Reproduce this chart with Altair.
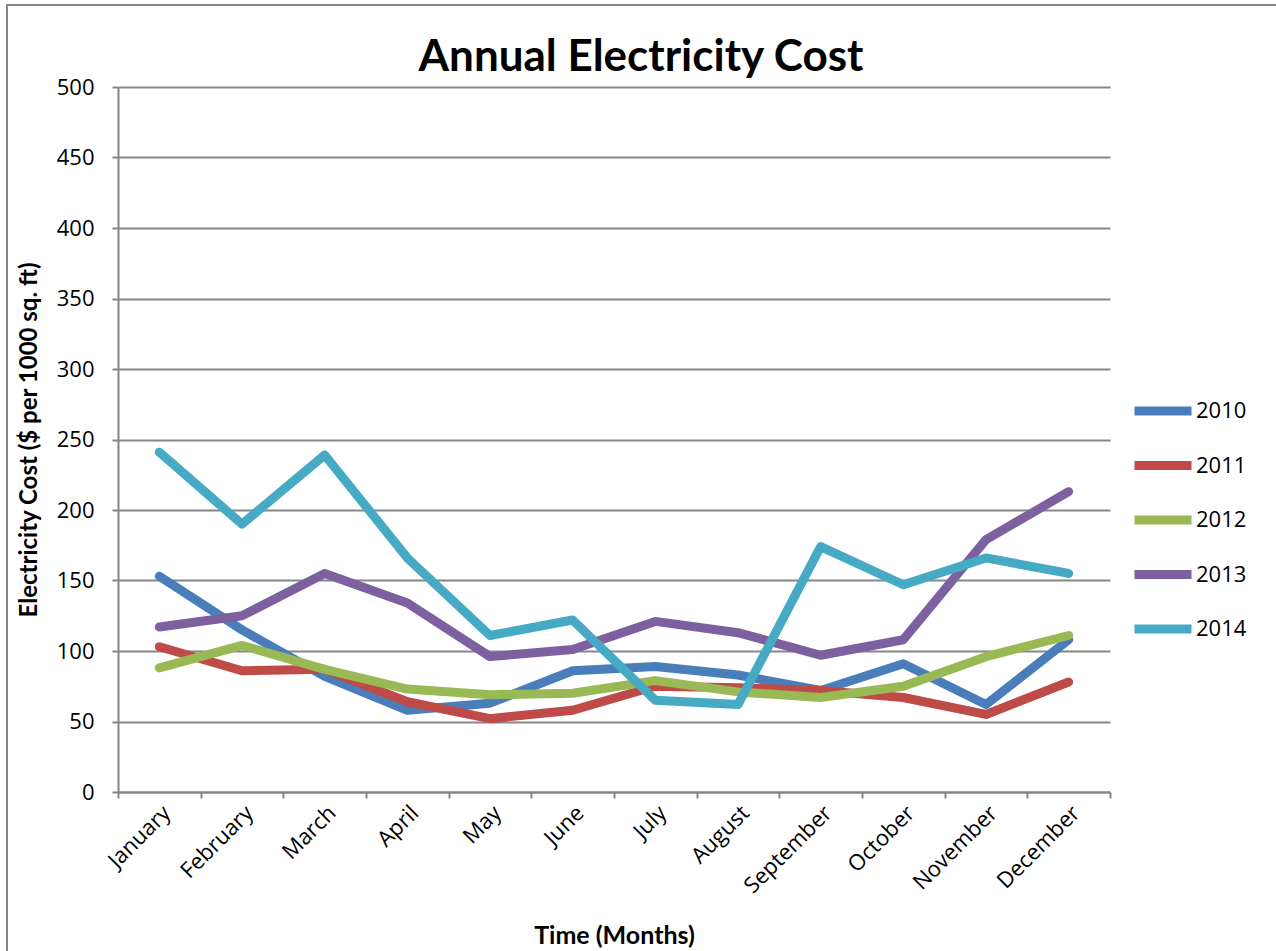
import altair as alt
import pandas as pd

months = ["January", "February", "March", "April", "May", "June", "July",
          "August", "September", "October", "November", "December"]
years = ["2010", "2011", "2012", "2013", "2014"]
cost_2010 = [153, 115, 82, 58, 63, 86, 89, 83, 72, 91, 62, 108]
cost_2011 = [103, 86, 87, 64, 52, 58, 75, 74, 72, 67, 55, 78]
cost_2012 = [88, 104, 87, 73, 69, 70, 79, 71, 67, 75, 96, 111]
cost_2013 = [117, 125, 155, 134, 96, 101, 121, 113, 97, 108, 179, 213]
cost_2014 = [241, 190, 239, 166, 111, 122, 65, 62, 174, 147, 166, 155]
colors = ["#4A7EBB", "#BE4B48", "#98B954", "#7D60A0", "#46AAC5"]

series = [cost_2010, cost_2011, cost_2012, cost_2013, cost_2014]
rows = []
for y, vals in zip(years, series):
    for m, v in zip(months, vals):
        rows.append({"Month": m, "Year": y, "Cost": v})
df = pd.DataFrame(rows)

LABEL_FONT = "Open Sans"
TITLE_FONT = "Lato"
GRAY = "#868686"

lines = alt.Chart(df).mark_line(strokeWidth=9, strokeCap="round", strokeJoin="round").encode(
    x=alt.X("Month:N", sort=months, scale=alt.Scale(paddingInner=0, paddingOuter=0),
            axis=alt.Axis(title="Time (Months)", labelAngle=-45, tickBand="extent",
                          grid=False, tickSize=6, labelPadding=4, titlePadding=27,
                          labelFontSize=22, titleFontSize=25, labelFont=LABEL_FONT)),
    y=alt.Y("Cost:Q", scale=alt.Scale(domain=[0, 500], nice=False),
            axis=alt.Axis(title="Electricity Cost ($ per 1000 sq. ft)", values=list(range(0, 501, 50)),
                          tickSize=6, labelPadding=18, titlePadding=15,
                          labelFontSize=22, titleFontSize=24, labelFont=LABEL_FONT)),
    color=alt.Color("Year:N", scale=alt.Scale(domain=years, range=colors),
                    legend=alt.Legend(title=None, orient="none", legendX=1012, legendY=291,
                                      symbolType="stroke", symbolSize=3249, symbolStrokeWidth=9,
                                      labelFontSize=22, labelOffset=0, rowPadding=3.5,
                                      labelFont=LABEL_FONT, labelColor="#000000")),
    detail="Year:N",
)

border = alt.Chart(pd.DataFrame({"k": [0]})).mark_rect(
    filled=False, stroke=GRAY, strokeWidth=2
).encode(
    x=alt.value(-111), x2=alt.value(1300), y=alt.value(-82), y2=alt.value(1000)
)

chart = alt.layer(border, lines).properties(
    width=992, height=705,
    background="white",
    title=alt.TitleParams("Annual Electricity Cost", fontSize=44, fontWeight="bold",
                          font=TITLE_FONT, color="#000000", anchor="middle", offset=0,
                          dy=76, dx=27),
    padding={"left": 118, "top": 87, "right": 166, "bottom": 159},
    autosize=alt.AutoSizeParams(type="none"),
).configure_axis(
    titleFont=TITLE_FONT, labelColor="#000000", titleColor="#000000",
    domainColor=GRAY, tickColor=GRAY, gridColor=GRAY,
    domainWidth=2, tickWidth=2, gridWidth=2, gridOpacity=1, titleFontWeight="bold",
).configure_view(stroke=None)

chart.save("out.html", embed_options={"renderer": "svg", "actions": False})
